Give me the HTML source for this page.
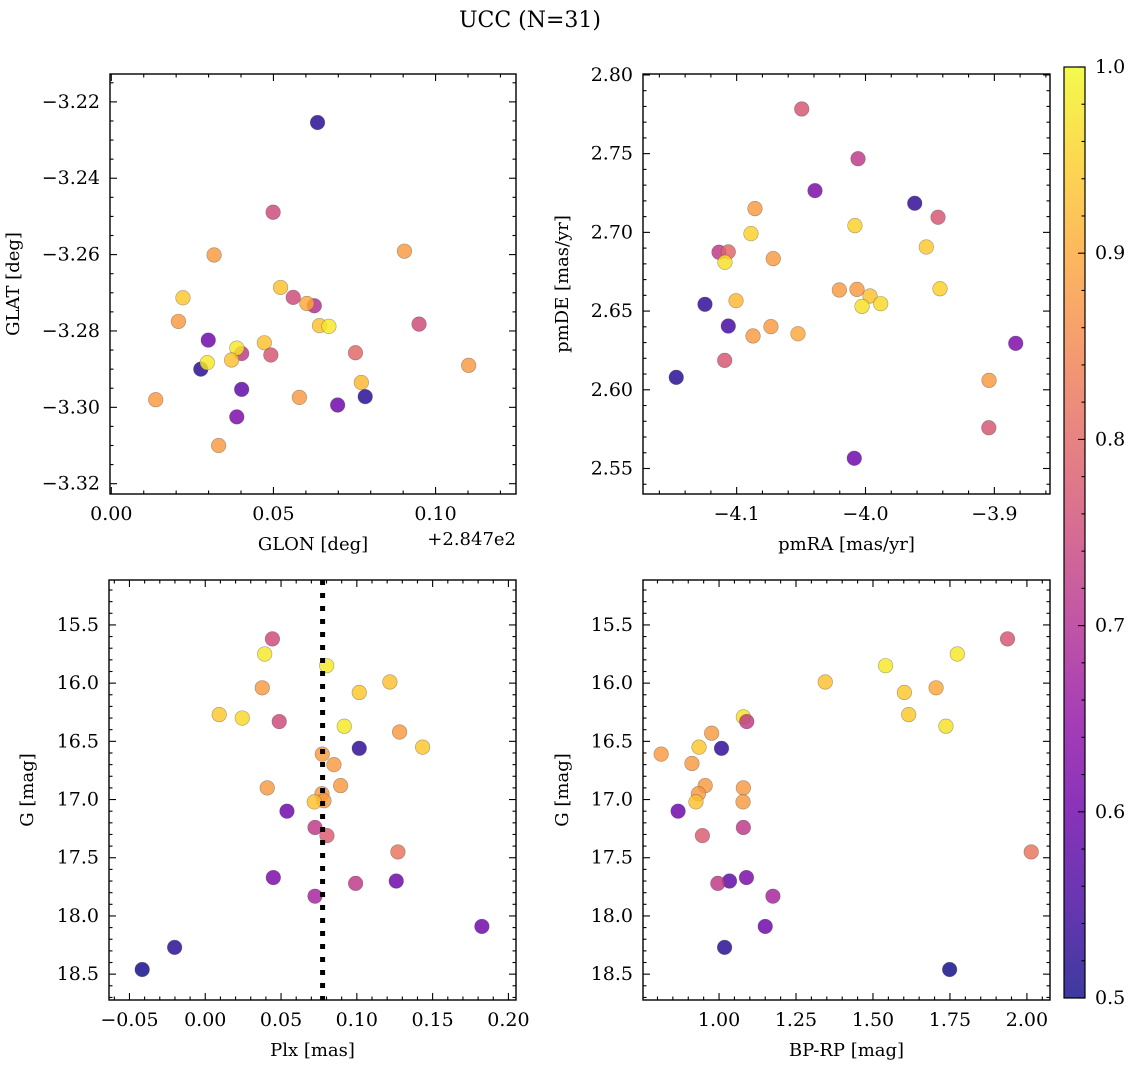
<!DOCTYPE html>
<html><head><meta charset="utf-8"><style>
html,body{margin:0;padding:0;background:#fff;}
svg text{font-family:"DejaVu Serif","Liberation Serif",serif;fill:#000;}
</style></head><body>
<svg id="fig" width="1136" height="1067" viewBox="0 0 1136 1067" xmlns="http://www.w3.org/2000/svg">
<text x="530" y="27" font-size="22" text-anchor="middle">UCC (N=31)</text>
</svg>
<script>
// ---- Panel 1 data: GLON offset (deg, +284.7) vs GLAT ----
const glonVals=[0.0636,0.0499,0.0317,0.0904,0.0522,0.0221,0.0561,0.0626,0.0603,0.0207,0.0642,0.0671,0.0949,0.0299,0.0472,0.0402,0.0387,0.0371,0.0492,0.0753,0.0276,0.0296,0.1102,0.0771,0.0402,0.0137,0.0580,0.0783,0.0698,0.0387,0.0331];
const glatVals=[-3.2254,-3.2489,-3.2601,-3.2591,-3.2686,-3.2713,-3.2712,-3.2734,-3.2728,-3.2775,-3.2786,-3.2788,-3.2782,-3.2824,-3.2831,-3.2859,-3.2845,-3.2876,-3.2863,-3.2857,-3.2900,-3.2883,-3.2890,-3.2935,-3.2953,-3.2980,-3.2974,-3.2972,-3.2994,-3.3025,-3.3100];
const probP1=[0.52,0.75,0.88,0.88,0.93,0.94,0.75,0.70,0.90,0.88,0.93,0.98,0.75,0.60,0.93,0.72,0.98,0.93,0.77,0.80,0.52,0.98,0.88,0.92,0.58,0.88,0.88,0.52,0.60,0.62,0.88];
// ---- Panel 2 data: pmRA vs pmDE ----
const pmraVals=[-4.0495,-4.0058,-4.0392,-3.9618,-3.9437,-4.0858,-4.0889,-4.0082,-4.1137,-4.1065,-4.1091,-3.9528,-4.0716,-4.0203,-4.0066,-3.9965,-4.0027,-3.9882,-3.9422,-4.1246,-4.1005,-4.1065,-4.0734,-4.0873,-4.0524,-4.1093,-4.1469,-3.8834,-3.9041,-3.9043,-4.0087];
const pmdeVals=[2.7784,2.7468,2.7265,2.7185,2.7096,2.7151,2.6992,2.7043,2.6874,2.6876,2.6810,2.6907,2.6833,2.6634,2.6638,2.6596,2.6530,2.6547,2.6642,2.6543,2.6566,2.6405,2.6401,2.6342,2.6356,2.6187,2.6079,2.6295,2.6060,2.5759,2.5565];
const probP2=[0.77,0.72,0.62,0.53,0.77,0.88,0.95,0.95,0.72,0.80,0.97,0.94,0.88,0.88,0.88,0.93,0.97,0.96,0.95,0.53,0.92,0.55,0.88,0.88,0.90,0.77,0.52,0.62,0.88,0.77,0.60];
// ---- Panel 3 data: Plx vs G ----
const plxVals=[0.0443,0.0392,0.0801,0.1218,0.0376,0.1016,0.0092,0.0244,0.0488,0.0917,0.1282,0.1434,0.1016,0.0772,0.0849,0.0409,0.0893,0.0770,0.0783,0.0719,0.0539,0.0724,0.0803,0.1271,0.0449,0.1260,0.0992,0.0724,0.1825,-0.0202,-0.0416];
const gP3=[15.62,15.75,15.85,15.99,16.04,16.08,16.27,16.30,16.33,16.37,16.42,16.55,16.56,16.61,16.70,16.90,16.88,16.95,17.01,17.02,17.10,17.24,17.31,17.45,17.67,17.70,17.72,17.83,18.09,18.27,18.46];
const probP3=[0.75,0.98,0.98,0.93,0.88,0.94,0.94,0.96,0.75,0.98,0.88,0.94,0.53,0.88,0.88,0.88,0.88,0.88,0.88,0.93,0.60,0.72,0.78,0.82,0.62,0.60,0.72,0.68,0.60,0.52,0.50];
const plxMedian=0.0774;
// ---- Panel 4 data: BP-RP vs G ----
const bprpVals=[1.937,1.774,1.541,1.345,1.705,1.602,1.616,1.737,1.079,1.090,0.976,0.935,1.008,0.812,0.912,0.955,1.079,0.933,1.078,0.925,0.867,1.079,0.946,2.014,1.089,1.034,0.996,1.175,1.150,1.018,1.749];
const gP4=[15.62,15.75,15.85,15.99,16.04,16.08,16.27,16.37,16.29,16.33,16.43,16.55,16.56,16.61,16.69,16.88,16.90,16.95,17.02,17.02,17.10,17.24,17.31,17.45,17.67,17.70,17.72,17.83,18.09,18.27,18.46];
const probP4=[0.77,0.98,0.98,0.93,0.90,0.94,0.94,0.97,0.97,0.72,0.88,0.94,0.53,0.88,0.88,0.88,0.88,0.88,0.88,0.93,0.60,0.72,0.78,0.82,0.62,0.58,0.72,0.68,0.60,0.52,0.50];
// ---- tick labels ----
const p1XTicks=[0.00,0.05,0.10];
const p1YTicks=[-3.22,-3.24,-3.26,-3.28,-3.30,-3.32];
const p2XTicks=[-4.1,-4.0,-3.9];
const p2YTicks=[2.80,2.75,2.70,2.65,2.60,2.55];
const p3XTicks=[-0.05,0.00,0.05,0.10,0.15,0.20];
const gTicks=[15.5,16.0,16.5,17.0,17.5,18.0,18.5];
const p4XTicks=[1.00,1.25,1.50,1.75,2.00];
const cbTicks=[0.5,0.6,0.7,0.8,0.9,1.0];

const NS='http://www.w3.org/2000/svg';
const svg=document.getElementById('fig');
const plasma=[[13,8,135],[65,4,157],[106,0,168],[143,13,164],[177,42,144],[204,71,120],[225,100,98],[242,132,75],[252,166,54],[252,206,37],[240,249,33]];
function cmap(v){let t=(v-0.5)/0.5;t=Math.max(0,Math.min(1,t))*10;const i=Math.min(9,Math.floor(t));const f=t-i;const a=plasma[i],b=plasma[i+1];return 'rgb('+a.map((c,k)=>Math.round(c+(b[k]-c)*f)).join(',')+')';}
function mk(tag,attrs,parent){const e=document.createElementNS(NS,tag);for(const k in attrs)e.setAttribute(k,attrs[k]);(parent||svg).appendChild(e);return e;}
function fmt(v,d){return (v<0?'\u2212':'')+Math.abs(v).toFixed(d);}

function panel(cfg){
  const g=mk('g',{});
  
  
  const sx=v=>cfg.x0+(v-cfg.xmin)/(cfg.xmax-cfg.xmin)*(cfg.x1-cfg.x0);
  const sy=cfg.yinv ? (v=>cfg.y0+(v-cfg.ymin)/(cfg.ymax-cfg.ymin)*(cfg.y1-cfg.y0))
                    : (v=>cfg.y0+(cfg.ymax-v)/(cfg.ymax-cfg.ymin)*(cfg.y1-cfg.y0));
  const tg=mk('g',{stroke:'#000','stroke-width':1.1},g);
  
  
  const eps=1e-9;
  for(let v=Math.ceil(cfg.xmin/cfg.xminor-eps)*cfg.xminor;v<=cfg.xmax+eps;v+=cfg.xminor){
    const X=sx(v);const major=Math.abs(v/cfg.xmajor-Math.round(v/cfg.xmajor))<1e-6;const L=major?7:3.5;
    mk('line',{x1:X,x2:X,y1:cfg.y1,y2:cfg.y1-L},tg);mk('line',{x1:X,x2:X,y1:cfg.y0,y2:cfg.y0+L},tg);
  }
  for(let v=Math.ceil(cfg.ymin/cfg.yminor-eps)*cfg.yminor;v<=cfg.ymax+eps;v+=cfg.yminor){
    const Y=sy(v);const major=Math.abs(v/cfg.ymajor-Math.round(v/cfg.ymajor))<1e-6;const L=major?7:3.5;
    mk('line',{x1:cfg.x0,x2:cfg.x0+L,y1:Y,y2:Y},tg);mk('line',{x1:cfg.x1,x2:cfg.x1-L,y1:Y,y2:Y},tg);
  }
  cfg.xticks.forEach(v=>{const t=mk('text',{x:sx(v),y:cfg.y1+26,'font-size':19,'text-anchor':'middle'},g);t.textContent=fmt(v,cfg.xdec);
    
    });
  cfg.yticks.forEach(v=>{const t=mk('text',{x:cfg.x0-10,y:sy(v)+6,'font-size':19,'text-anchor':'end'},g);t.textContent=fmt(v,cfg.ydec);
    
    });
  cfg.xs.forEach((xv,i)=>{const c=mk('circle',{cx:sx(xv),cy:sy(cfg.ys[i]),r:7.3,fill:cmap(cfg.c[i]),'fill-opacity':0.82,stroke:'rgba(60,60,60,0.45)','stroke-width':0.6},g);
    
    });
  if(cfg.vline!==undefined){const l=mk('line',{x1:sx(cfg.vline),x2:sx(cfg.vline),y1:cfg.y0,y2:cfg.y1,stroke:'#000','stroke-width':5,'stroke-dasharray':'5 8'},g);
    
    }
  const f=mk('rect',{x:cfg.x0,y:cfg.y0,width:cfg.x1-cfg.x0,height:cfg.y1-cfg.y0,fill:'none',stroke:'#000','stroke-width':1.4},g);
  
  
  const xl=mk('text',{x:(cfg.x0+cfg.x1)/2,y:cfg.y1+56,'font-size':18,'text-anchor':'middle'},g);xl.textContent=cfg.xlabel;
  
  
  const yx=cfg.x0-cfg.ylabelOff, yy=(cfg.y0+cfg.y1)/2;
  const yl=mk('text',{x:yx,y:yy,'font-size':18,'text-anchor':'middle',transform:'rotate(-90 '+yx+' '+yy+')'},g);yl.textContent=cfg.ylabel;
  
  
}

panel({name:'glon-glat-panel',x0:110,x1:516,y0:74,y1:494,xmin:-0.0004,xmax:0.1248,ymin:-3.3227,ymax:-3.2127,xmajor:0.05,xminor:0.01,ymajor:0.02,yminor:0.005,xticks:p1XTicks,yticks:p1YTicks,xdec:2,ydec:2,xs:glonVals,ys:glatVals,c:probP1,xlabel:'GLON [deg]',ylabel:'GLAT [deg]',ylabelOff:91});
panel({name:'pm-panel',x0:643,x1:1050,y0:74,y1:494,xmin:-4.1727,xmax:-3.8568,ymin:2.5338,ymax:2.8006,xmajor:0.1,xminor:0.02,ymajor:0.05,yminor:0.01,xticks:p2XTicks,yticks:p2YTicks,xdec:1,ydec:2,xs:pmraVals,ys:pmdeVals,c:probP2,xlabel:'pmRA [mas/yr]',ylabel:'pmDE [mas/yr]',ylabelOff:75});
panel({name:'plx-g-panel',x0:109,x1:516,y0:580,y1:1000,xmin:-0.0635,xmax:0.205,ymin:15.114,ymax:18.722,xmajor:0.05,xminor:0.01,ymajor:0.5,yminor:0.1,xticks:p3XTicks,yticks:gTicks,xdec:2,ydec:1,xs:plxVals,ys:gP3,c:probP3,xlabel:'Plx [mas]',ylabel:'G [mag]',ylabelOff:76,vline:plxMedian,yinv:true});
panel({name:'cmd-panel',x0:643,x1:1050,y0:580,y1:1000,xmin:0.753,xmax:2.075,ymin:15.114,ymax:18.722,xmajor:0.25,xminor:0.05,ymajor:0.5,yminor:0.1,xticks:p4XTicks,yticks:gTicks,xdec:2,ydec:1,xs:bprpVals,ys:gP4,c:probP4,xlabel:'BP-RP [mag]',ylabel:'G [mag]',ylabelOff:75,yinv:true});

(function(){
  const cb=mk('g',{});
  
  
  const defs=mk('defs',{});
  const lg=mk('linearGradient',{id:'pl',x1:0,y1:1,x2:0,y2:0},defs);
  plasma.forEach((c,i)=>mk('stop',{offset:i/10,'stop-color':'rgb('+c.join(',')+')'},lg));
  const x0=1064,x1=1085,y0=67,y1=998;
  mk('rect',{x:x0,y:y0,width:x1-x0,height:y1-y0,fill:'url(#pl)','fill-opacity':0.8,stroke:'#000','stroke-width':1.2},cb);
  const sy=v=>y1-(v-0.5)/0.5*(y1-y0);
  for(let k=0;k<=25;k++){const v=0.5+k*0.02;const Y=sy(v);const major=k%5===0;mk('line',{x1:x1,x2:x1-(major?7:3.5),y1:Y,y2:Y,stroke:'#000','stroke-width':1.1},cb);}
  cbTicks.forEach(v=>{const t=mk('text',{x:x1+10,y:sy(v)+6,'font-size':19},cb);t.textContent=v.toFixed(1);
    
    });
  const o=mk('text',{x:516,y:545,'font-size':18,'text-anchor':'end'});o.textContent='+2.847e2';
  
  
})();
</script>
</body></html>
